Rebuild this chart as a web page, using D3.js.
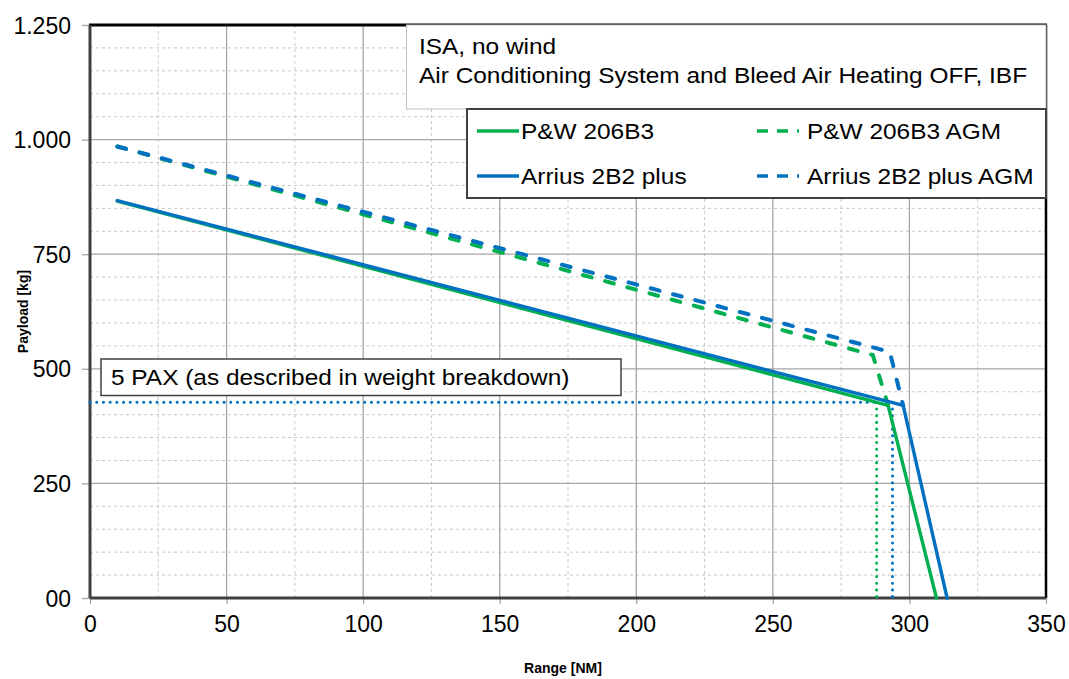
<html>
<head>
<script src="https://d3js.org/d3.v7.min.js"></script>
<style>
body { margin: 0; background: #fff; font-family: "Liberation Sans", Arial, sans-serif; }
.tick-label { font-size: 23px; fill: #000; }
.axis-title { font-size: 14px; font-weight: bold; fill: #000; }
.box-text { font-size: 22px; fill: #000; }
</style>
</head>
<body>
<div id="chart"></div>
<script>
// series: [range NM, payload kg]
var pw206B3 = [[10, 866], [292.2, 420], [309.9, 0]];
var arrius2B2 = [[10, 867], [297.7, 420], [313.8, 0]];
var pw206B3AGM = [[10, 985], [286.6, 530], [292.2, 420]];
var arrius2B2AGM = [[10, 985], [292.8, 537], [297.7, 420]];
var paxDotBlue = [[0, 427], [288, 427]];
var paxDotBlueV = [[293.8, 427], [293.8, 0]];
var paxDotGreenV = [[288, 427], [288, 0]];

var xTicks = [0, 50, 100, 150, 200, 250, 300, 350];
var yTicks = [0, 250, 500, 750, 1000, 1250];
var yTickLabels = ["00", "250", "500", "750", "1.000", "1.250"];
var xMinor = [25, 75, 125, 175, 225, 275, 325];
var yMinor = [50, 100, 150, 200, 300, 350, 400, 450, 550, 600, 650, 700, 800, 850, 900, 950, 1050, 1100, 1150, 1200];

var legendNames = ["P&W 206B3", "P&W 206B3 AGM", "Arrius 2B2 plus", "Arrius 2B2 plus AGM"];
var noteLines = ["ISA, no wind", "Air Conditioning System and Bleed Air Heating OFF, IBF"];
var paxNote = "5 PAX (as described in weight breakdown)";

var green = "#00B050";
var blue = "#0070C0";
var stretch = 1.11; // text in the source is drawn a little wide

var width = 1069, height = 679;
var x = d3.scaleLinear().domain([0, 350]).range([90, 1046]);
var y = d3.scaleLinear().domain([0, 1250]).range([598, 25]);

var svg = d3.select("#chart").append("svg")
  .attr("width", width)
  .attr("height", height);

/* grid */
svg.selectAll(".xminor").data(xMinor).enter().append("line")
  .attr("x1", d => x(d)).attr("x2", d => x(d))
  .attr("y1", y(0)).attr("y2", y(1250))
  .attr("stroke", "#c8c8c8").attr("stroke-width", 1).attr("stroke-dasharray", "3,3");
svg.selectAll(".yminor").data(yMinor).enter().append("line")
  .attr("x1", x(0)).attr("x2", x(350))
  .attr("y1", d => y(d)).attr("y2", d => y(d))
  .attr("stroke", "#c8c8c8").attr("stroke-width", 1).attr("stroke-dasharray", "3,3");
svg.selectAll(".xmajor").data(xTicks.slice(1, -1)).enter().append("line")
  .attr("x1", d => x(d)).attr("x2", d => x(d))
  .attr("y1", y(0)).attr("y2", y(1250))
  .attr("stroke", "#a6a6a6").attr("stroke-width", 1.3);
svg.selectAll(".ymajor").data(yTicks.slice(1, -1)).enter().append("line")
  .attr("x1", x(0)).attr("x2", x(350))
  .attr("y1", d => y(d)).attr("y2", d => y(d))
  .attr("stroke", "#a6a6a6").attr("stroke-width", 1.3);

/* axes */
var xAxis = d3.axisBottom(x).tickValues(xTicks).tickSize(6).tickSizeOuter(0).tickFormat(d3.format("d"));
var yAxis = d3.axisLeft(y).tickValues(yTicks).tickSize(8).tickSizeOuter(0).tickFormat((d, i) => yTickLabels[i]);

var gx = svg.append("g").attr("transform", `translate(0, ${y(0)})`).call(xAxis);
gx.select(".domain").remove();
gx.selectAll("line").attr("stroke", "#a6a6a6").attr("stroke-width", 1.3);
gx.selectAll("text").attr("class", "tick-label").attr("dy", "1.05em").attr("y", 10)
  .style("font-family", "Liberation Sans, Arial, sans-serif").style("font-size", "23px");

var gy = svg.append("g").attr("transform", `translate(${x(0)}, 0)`).call(yAxis);
gy.select(".domain").remove();
gy.selectAll("line").attr("stroke", "#a6a6a6").attr("stroke-width", 1.3);
gy.selectAll("text").attr("class", "tick-label").attr("x", -19).attr("dy", "0.35em")
  .style("font-family", "Liberation Sans, Arial, sans-serif").style("font-size", "23px");

/* frame */
svg.append("line").attr("x1", x(0) - 1).attr("x2", x(350) + 1).attr("y1", y(1250)).attr("y2", y(1250))
  .attr("stroke", "#000").attr("stroke-width", 3);
svg.append("line").attr("x1", x(350)).attr("x2", x(350)).attr("y1", y(1250)).attr("y2", y(0))
  .attr("stroke", "#000").attr("stroke-width", 2.5);
svg.append("line").attr("x1", x(0)).attr("x2", x(0)).attr("y1", y(1250)).attr("y2", y(0))
  .attr("stroke", "#404040").attr("stroke-width", 3);
svg.append("line").attr("x1", x(0)).attr("x2", x(350)).attr("y1", y(0)).attr("y2", y(0))
  .attr("stroke", "#404040").attr("stroke-width", 3);

/* lines */
var line = d3.line().x(d => x(d[0])).y(d => y(d[1]));

function dotted(pts, col) {
  svg.append("path").attr("d", line(pts)).attr("fill", "none")
    .attr("stroke", col).attr("stroke-width", 3)
    .attr("stroke-linecap", "round").attr("stroke-dasharray", "0.1,6.6");
}
dotted(paxDotGreenV, green);
dotted(paxDotBlue, blue);
dotted(paxDotBlueV, blue);

function dashed(pts, col) {
  svg.append("path").attr("d", line(pts)).attr("fill", "none")
    .attr("stroke", col).attr("stroke-width", 4)
    .attr("stroke-linecap", "round").attr("stroke-linejoin", "round")
    .attr("stroke-dasharray", "9,14");
}
dashed(pw206B3AGM, green);
dashed(arrius2B2AGM, blue);

function solid(pts, col) {
  svg.append("path").attr("d", line(pts)).attr("fill", "none")
    .attr("stroke", col).attr("stroke-width", 3.4)
    .attr("stroke-linecap", "round").attr("stroke-linejoin", "round");
}
solid(pw206B3, green);
solid(arrius2B2, blue);

// widen a text node by the source's horizontal stretch
function widen(sel) {
  sel.each(function() {
    var w = this.getComputedTextLength();
    d3.select(this).attr("textLength", w * stretch).attr("lengthAdjust", "spacingAndGlyphs");
  });
}

/* note box */
svg.append("rect").attr("x", 406.5).attr("y", 25).attr("width", x(350) - 406.5).attr("height", 84)
  .attr("fill", "#fff").attr("stroke", "#bfbfbf").attr("stroke-width", 1);
svg.selectAll(".note").data(noteLines).enter().append("text")
  .attr("class", "box-text")
  .attr("x", 419).attr("y", (d, i) => 46 + i * 29).attr("dy", "0.35em")
  .text(d => d)
  .call(widen);

/* legend */
svg.append("rect").attr("x", 467).attr("y", 109).attr("width", x(350) - 467).attr("height", 89)
  .attr("fill", "#fff").attr("stroke", "#404040").attr("stroke-width", 2);
var legendPos = [[477, 131], [757, 131], [477, 176], [757, 176]];
var legendCol = [green, green, blue, blue];
legendNames.forEach(function(name, i) {
  var p = legendPos[i];
  svg.append("line").attr("x1", p[0]).attr("x2", p[0] + 42).attr("y1", p[1]).attr("y2", p[1])
    .attr("stroke", legendCol[i]).attr("stroke-width", 3.5)
    .attr("stroke-dasharray", i % 2 ? "11,9" : null);
  svg.append("text").attr("class", "box-text")
    .attr("x", p[0] + (i % 2 ? 50 : 44)).attr("y", p[1]).attr("dy", "0.35em")
    .text(name)
    .call(widen);
});

/* PAX box */
svg.append("rect").attr("x", 101).attr("y", 359).attr("width", 520).attr("height", 36.5)
  .attr("fill", "#fff").attr("stroke", "#404040").attr("stroke-width", 1.5);
svg.append("text").attr("class", "box-text")
  .attr("x", 111).attr("y", 377).attr("dy", "0.35em")
  .text(paxNote)
  .call(widen);

/* axis titles */
svg.append("text").attr("class", "axis-title")
  .attr("transform", `translate(23, ${y(625)}) rotate(-90)`)
  .attr("text-anchor", "middle").attr("dy", "0.35em")
  .text("Payload [kg]");
svg.append("text").attr("class", "axis-title")
  .attr("x", 563).attr("y", 668).attr("text-anchor", "middle").attr("dy", "0.35em")
  .text("Range [NM]");
</script>
</body>
</html>
